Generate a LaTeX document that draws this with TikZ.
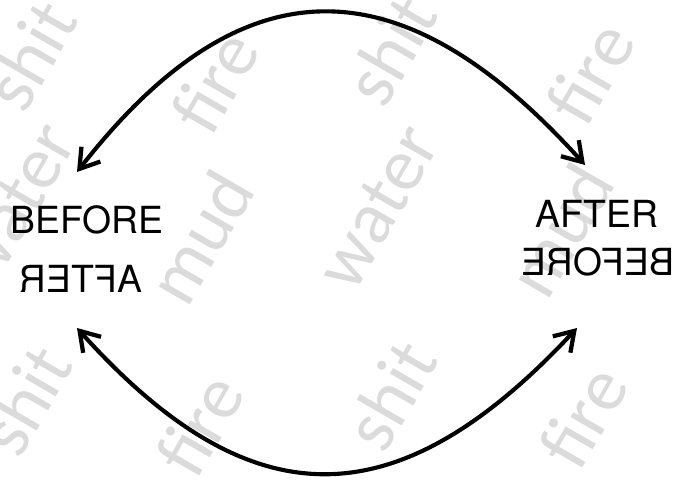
\documentclass[tikz,border=0pt]{standalone}
\usepackage{fontspec}
\setmainfont{TeX Gyre Heros}
\newfontfamily\wmfont{Carlito}
\usetikzlibrary{arrows.meta}
\begin{document}
\begin{tikzpicture}[x=0.75pt,y=0.75pt,
  word/.style={font=\fontsize{28}{30}\selectfont,inner sep=0pt},
  wmark/.style={font=\wmfont\fontsize{56}{60}\selectfont,text=black!14,rotate=60,inner sep=0pt},
  swap/.style={{Straight Barb[length=14pt,width=18pt,line width=3.2pt]}-{Straight Barb[length=14pt,width=18pt,line width=3.2pt]},line width=3.1pt}]
 \useasboundingbox (0,0) rectangle (675,479);
 % background words
 \foreach \w/\x/\y [count=\i] in {shit/30/55,fire/215/82,shit/390/50,fire/590/73,
   water/15/205,mud/200/237,water/378/207,mud/560/230,
   shit/25/400,fire/200/425,shit/390/395,fire/583/417}
   \node[wmark] (w\i) at (\x,479-\y) {\w};
 % labels
 \node[word] (lbefore) at (87,259) {BEFORE};
 \node[word,xscale=-1] (lafter) at (81,200) {AFTER};
 \node[word] (rafter) at (597,265) {AFTER};
 \node[word,xscale=-1] (rbefore) at (598,217) {BEFORE};
 \coordinate (tl) at (77,307);
 \coordinate (tr) at (585,314);
 \coordinate (bl) at (77,151);
 \coordinate (br) at (577,151);
 \draw[swap] (tl) .. controls (244,521) and (403,516) .. (tr);
 \draw[swap] (bl) .. controls (252,-44) and (398,-41) .. (br);
\end{tikzpicture}
\end{document}
